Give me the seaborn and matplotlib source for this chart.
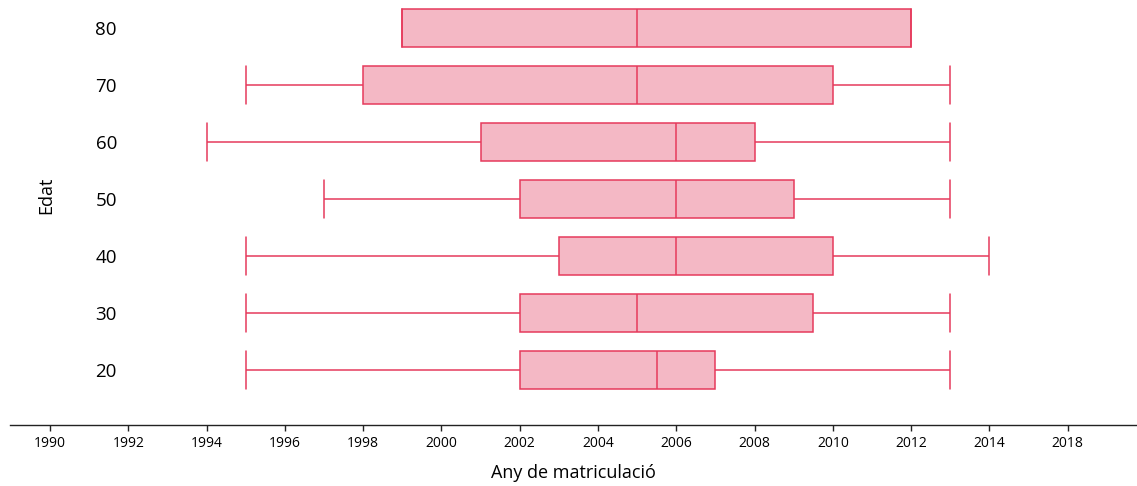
import numpy as np
import pandas as pd
import matplotlib
matplotlib.use("Agg")
import matplotlib.pyplot as plt
import seaborn as sns

# five-number summaries: min, q1, median, q3, max
ages = ["80", "70", "60", "50", "40", "30", "20"]
mins = [1999, 1995, 1994, 1997, 1995, 1995, 1995]
q1s = [1999, 1998, 2001, 2002, 2003, 2002, 2002]
medians = [2005, 2005, 2006, 2006, 2006, 2005, 2005.5]
q3s = [2012, 2010, 2008, 2009, 2010, 2009.5, 2007]
maxs = [2012, 2013, 2013, 2013, 2014, 2013, 2013]

tick_years = [1990, 1992, 1994, 1996, 1998, 2000, 2002, 2004, 2006, 2008, 2010, 2012, 2014, 2016]
tick_labels = ["1990", "1992", "1994", "1996", "1998", "2000", "2002", "2004",
               "2006", "2008", "2010", "2012", "2014", "2018"]

FILL = "#F4B8C5"
EDGE = "#E63A5C"

rows = []
for age, a, b, c, d, e in zip(ages, mins, q1s, medians, q3s, maxs):
    for v in (a, b, c, d, e):
        rows.append({"edat": age, "any": v})
df = pd.DataFrame(rows)

sns.set_theme(style="white")
plt.rcParams["font.family"] = ["Open Sans", "DejaVu Sans"]
plt.rcParams["text.color"] = "black"
plt.rcParams["axes.labelcolor"] = "black"
plt.rcParams["xtick.color"] = "black"
plt.rcParams["ytick.color"] = "black"

fig = plt.figure(figsize=(11.37, 4.86), dpi=100)
ax = fig.add_axes([10 / 1137, 61 / 486, 1127 / 1137, 425 / 486])

sns.boxplot(
    data=df, x="any", y="edat", order=ages, orient="h",
    whis=(0, 100), width=0.67, saturation=1,
    color=FILL, linecolor=EDGE, linewidth=1.1,
    capwidths=0.67, ax=ax,
)

ax.set_xlim(1988.98, 2017.77)
ax.set_ylim(6.96, -0.49)

for side in ("top", "right", "left"):
    ax.spines[side].set_visible(False)
ax.spines["bottom"].set_color("#222222")
ax.spines["bottom"].set_linewidth(1.0)

ax.set_xticks(tick_years)
ax.set_xticklabels(tick_labels, fontsize=10)
ax.tick_params(axis="x", bottom=True, length=4, width=1, color="#222222", pad=4)
ax.tick_params(axis="y", length=0, pad=-77, labelsize=13.5)

ax.set_xlabel("Any de matriculació", fontsize=13, labelpad=9)
ax.set_ylabel("Edat", fontsize=13)
ax.yaxis.set_label_coords(0.04, 0.54)

fig.savefig("out.png", dpi=100)
